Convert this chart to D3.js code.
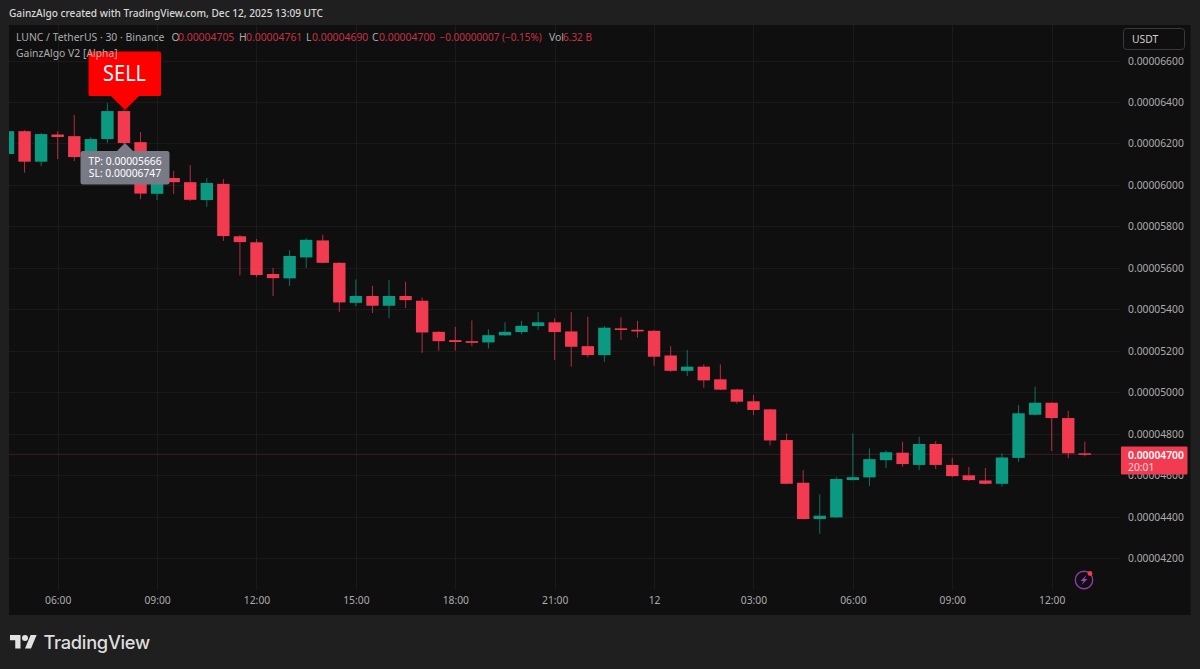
<!DOCTYPE html>
<html><head><meta charset="utf-8">
<script src="https://cdn.jsdelivr.net/npm/d3@7"></script>
<style>
html,body{margin:0;padding:0;background:#1f1f1f;overflow:hidden}
svg{display:block}
text{font-family:"Noto Sans",sans-serif}
.axis path,.axis line{display:none}
</style></head><body><svg id="c" width="1200" height="669"></svg>
<script>
// Prices in units of 0.000001 USDT
const opens=[61.49,62.59,61.12,62.43,62.35,61.29,62.21,63.56,62.06,59.57,60.33,60.13,59.27,60.05,57.52,57.23,55.70,55.49,56.50,57.32,56.24,54.31,54.64,54.17,54.64,54.41,52.91,52.51,52.46,52.40,52.74,52.90,53.19,53.37,52.93,52.22,51.79,53.08,53.01,52.96,51.77,51.03,51.23,50.62,50.13,49.56,49.17,47.69,45.63,43.88,43.96,45.76,45.89,46.72,47.08,46.49,47.50,46.49,45.99,45.74,45.58,46.83,48.91,49.49,48.75,47.05];
const highs=[62.65,62.64,62.50,62.59,63.37,62.31,63.95,63.61,62.55,60.62,60.68,60.95,60.33,60.28,57.58,57.39,56.00,56.85,57.43,57.59,56.27,55.44,55.13,55.41,55.33,54.57,52.94,53.15,53.46,53.03,53.37,53.44,53.86,53.56,53.86,53.64,53.19,53.61,53.44,52.99,52.22,52.03,51.34,51.34,50.16,49.86,49.20,48.01,46.24,45.07,45.92,48.01,47.29,47.19,47.61,47.85,47.64,46.83,46.39,46.34,47.05,49.38,50.26,49.50,49.10,47.61];
const lows=[61.20,60.59,60.91,61.24,61.15,61.05,62.02,61.97,59.31,59.27,59.56,59.22,58.94,57.30,55.63,55.55,54.64,55.12,55.99,56.22,53.88,54.15,53.82,53.57,54.06,51.90,52.00,52.00,52.22,52.11,52.72,52.79,53.00,51.55,51.23,51.68,51.47,52.51,52.64,51.27,50.98,50.78,50.21,50.10,49.44,48.89,47.43,45.56,43.86,43.17,43.94,45.74,45.47,46.34,46.40,46.24,46.29,45.90,45.72,45.55,45.44,46.64,48.88,47.16,46.81,46.90];
const closes=[62.59,61.12,62.45,62.31,61.34,62.21,63.56,62.02,59.58,60.42,60.13,59.28,60.09,57.53,57.24,55.65,55.50,56.57,57.35,56.24,54.33,54.64,54.17,54.64,54.44,52.88,52.46,52.42,52.38,52.75,52.91,53.20,53.37,52.90,52.19,51.79,53.11,53.00,52.93,51.71,51.03,51.23,50.57,50.12,49.54,49.14,47.67,45.58,43.88,44.04,45.81,45.90,46.77,47.10,46.53,47.50,46.49,45.95,45.76,45.58,46.85,48.98,49.49,48.75,47.05,47.00];
const priceTicks=[42,44,46,48,50,52,54,56,58,60,62,64,66];
const timeTickIndex=[3,9,15,21,27,33,39,45,51,57,63];
const timeTickLabels=["06:00","09:00","12:00","15:00","18:00","21:00","12","03:00","06:00","09:00","12:00"];
const lastPrice=47.00, lastPriceLabel="0.00004700", countdown="20:01";
const title="GainzAlgo created with TradingView.com, Dec 12, 2025 13:09 UTC";

const RED="#f23a50",GREEN="#0b9a81",TXT="#acacac",DIMRED="#c53245";
const svg=d3.select("#c");
const x=d3.scaleLinear().domain([0,65]).range([8.0,1084.8]);
const y=d3.scaleLinear().domain([42,66]).range([558,60.5]);
const L=9,R=1190.5,T=25,B=615,PR=1120,PB=590;

svg.append("rect").attr("width",1200).attr("height",669).attr("fill","#1f1f1f");
svg.append("text").attr("x",9).attr("y",17).attr("font-size",10.15).attr("font-weight",500).attr("fill","#d8d8d8").text(title);
svg.append("rect").attr("x",L).attr("y",T).attr("width",R-L).attr("height",B-T).attr("fill","#0f0f0f");
const defs=svg.append("defs");
defs.append("clipPath").attr("id","pane").append("rect").attr("x",L).attr("y",T).attr("width",PR-L).attr("height",PB-T);

// grid
const grid=svg.append("g").attr("stroke","#1a1a1a").attr("stroke-width",1);
grid.selectAll(".h").data(priceTicks).join("line").attr("x1",L).attr("x2",PR).attr("y1",d=>Math.round(y(d))+.5).attr("y2",d=>Math.round(y(d))+.5);
grid.selectAll(".v").data(timeTickIndex).join("line").attr("y1",T).attr("y2",PB).attr("x1",d=>Math.round(x(d))+.5).attr("x2",d=>Math.round(x(d))+.5);

// last price line
svg.append("line").attr("x1",L).attr("x2",PR).attr("y1",y(lastPrice)).attr("y2",y(lastPrice)).attr("stroke","#421c21");

// candles
const table=opens.map((o,i)=>({i,o,h:highs[i],l:lows[i],c:closes[i]}));
const g=svg.append("g").attr("clip-path","url(#pane)");
const col=d=>d.c>=d.o?GREEN:RED;
g.selectAll(".w").data(table).join("line").attr("x1",d=>x(d.i)).attr("x2",d=>x(d.i)).attr("y1",d=>y(d.h)).attr("y2",d=>y(d.l)).attr("stroke",col).attr("stroke-opacity",.72).attr("stroke-width",1);
const bw=12.4;
g.selectAll(".b").data(table).join("rect").attr("x",d=>x(d.i)-bw/2).attr("width",bw).attr("y",d=>y(Math.max(d.o,d.c))).attr("height",d=>Math.max(1.5,Math.abs(y(d.o)-y(d.c)))).attr("fill",col);

// axes
const ya=d3.axisRight(y).tickValues(priceTicks).tickSize(0).tickPadding(0).tickFormat(d=>(d*1e-6).toFixed(8));
const yg=svg.append("g").attr("class","axis").attr("transform","translate(1128,0)").call(ya);
yg.selectAll("text").attr("font-size",10.3).attr("fill",TXT).attr("dy",".34em");
const xa=d3.axisBottom(x).tickValues(timeTickIndex).tickSize(0).tickPadding(0).tickFormat((d,i)=>timeTickLabels[i]);
const xg=svg.append("g").attr("class","axis").attr("transform","translate(0,597)").call(xa);
xg.selectAll("text").attr("font-size",10.3).attr("fill",TXT).attr("dy",".71em");

// SELL label
svg.append("path").attr("d","M90 51.5H159.5a1.5 1.5 0 0 1 1.5 1.5V94.5a1.5 1.5 0 0 1-1.5 1.5H139L125 110 111 96H90a1.5 1.5 0 0 1-1.5-1.5V53a1.5 1.5 0 0 1 1.5-1.5Z").attr("fill","#ff0000");
svg.append("text").attr("x",124.6).attr("y",81).attr("text-anchor","middle").attr("font-size",22).attr("textLength",43).attr("lengthAdjust","spacingAndGlyphs").attr("fill","#fff").text("SELL");

// legend (drawn over the SELL label, as in the chart)
const leg=svg.append("g").attr("font-size",10.4);
const seg=(xp,t,f)=>leg.append("text").attr("x",xp).attr("y",41).attr("fill",f).text(t);
seg(16,"LUNC / TetherUS · 30 · Binance",TXT);
seg(171.5,"O",TXT);seg(178,"0.00004705",DIMRED);
seg(239,"H",TXT);seg(246,"0.00004761",DIMRED);
seg(306,"L",TXT);seg(312,"0.00004690",DIMRED);
seg(372,"C",TXT);seg(379,"0.00004700",DIMRED);
seg(439.5,"−0.00000007 (−0.15%)",DIMRED).attr("font-size",10);
seg(549,"Vol",TXT);seg(563,"6.32 B",DIMRED).attr("font-size",10);
leg.append("text").attr("x",16).attr("y",57).attr("fill",TXT).text("GainzAlgo V2 [Alpha]");

// USDT button
svg.append("rect").attr("x",1123.5).attr("y",28.5).attr("width",61).attr("height",21).attr("rx",3).attr("fill","#0f0f0f").attr("stroke","#3a3a3a");
svg.append("text").attr("x",1132).attr("y",43).attr("font-size",10.3).attr("fill","#d0d0d0").text("USDT");

// TP/SL label
svg.append("path").attr("d","M83 151H117L125 143 133 151H167a2.5 2.5 0 0 1 2.5 2.5V182a2.5 2.5 0 0 1-2.5 2.5H83a2.5 2.5 0 0 1-2.5-2.5V153.5A2.5 2.5 0 0 1 83 151Z").attr("fill","#787b86");
svg.append("text").attr("x",125).attr("y",165).attr("text-anchor","middle").attr("font-size",10.3).attr("fill","#fff").text("TP: 0.00005666");
svg.append("text").attr("x",125).attr("y",177).attr("text-anchor","middle").attr("font-size",10.3).attr("fill","#fff").text("SL: 0.00006747");

// price tag
svg.append("rect").attr("x",1121).attr("y",446.5).attr("width",66.5).attr("height",28).attr("rx",1).attr("fill",RED);
svg.append("text").attr("x",1128).attr("y",458.5).attr("font-size",10.3).attr("font-weight",600).attr("fill","#fff").text(lastPriceLabel);
svg.append("text").attr("x",1128).attr("y",471).attr("font-size",10.3).attr("fill","#ffdcdf").text(countdown);

// icon
const ic=svg.append("g").attr("transform","translate(1084,580)");
ic.append("circle").attr("r",8.7).attr("fill","none").attr("stroke","#8e3aa8").attr("stroke-width",1.4);
ic.append("path").attr("d","M2.5-5L-3.5 1H-.5L-2.5 5L3.5-1H.5Z").attr("fill","#a03cc0");
ic.append("circle").attr("cx",6).attr("cy",-6.5).attr("r",2.4).attr("fill",RED);

// footer logo
const logo=svg.append("g").attr("transform","translate(10,632) scale(.75)").attr("fill","#e2e2e2");
logo.append("path").attr("d","M14 22H7V11H0V4h14v18zM28 22h-8l7.5-18h8L28 22z");
logo.append("circle").attr("cx",20).attr("cy",8).attr("r",4);
svg.append("text").attr("x",43.5).attr("y",649).attr("font-size",18.3).attr("font-weight",500).attr("fill","#dedede").style("font-family","Inter,sans-serif").attr("letter-spacing","-.3").text("TradingView");
</script></body></html>
